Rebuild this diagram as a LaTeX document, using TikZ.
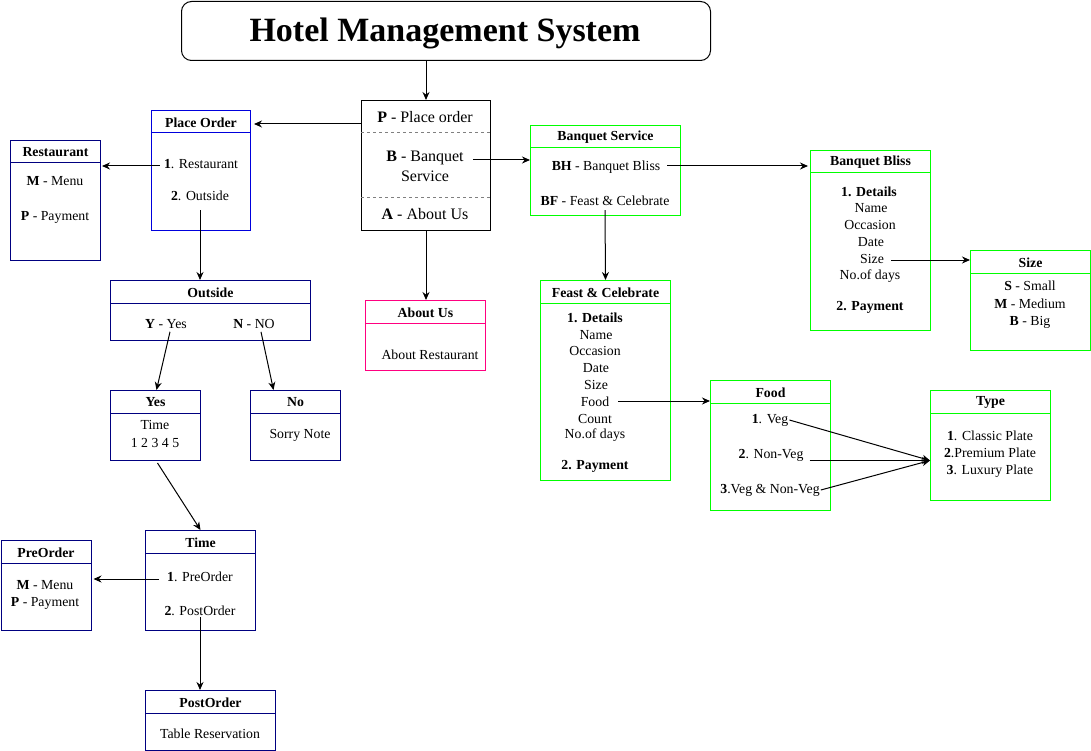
\documentclass[tikz,border=0pt]{standalone}
\usepackage{fontspec}
\setmainfont{Liberation Serif}
\usetikzlibrary{arrows.meta}
\definecolor{pblue}{HTML}{0000DD}
\definecolor{navy}{HTML}{000080}
\definecolor{lgreen}{HTML}{00FF00}
\definecolor{pink}{HTML}{FF0080}
\tikzset{
  txt/.style={font=\fontsize{13.8}{16}\selectfont, inner sep=1pt},
  big/.style={font=\fontsize{16}{20}\selectfont, inner sep=1pt, align=center},
  hdr/.style={font=\bfseries\fontsize{13.8}{16}\selectfont, inner sep=1pt},
  arr/.style={draw=black, line width=1pt, -{Stealth[length=8pt,width=7pt]}},
}
\newcommand{\mybox}[7]{%
  \node[draw=#6, line width=1pt, minimum width=#4pt, minimum height=#5pt, inner sep=0pt, anchor=north west] (#1) at (#2,#3) {};
  \draw[draw=#6, line width=1pt] ([yshift=-23pt]#1.north west) -- ([yshift=-23pt]#1.north east);
  \node[hdr] (#1-h) at ([yshift=-12.5pt]#1.north) {#7};
}
\begin{document}
\begin{tikzpicture}[x=1pt,y=-1pt]
\useasboundingbox (0,0) rectangle (1091,751);
% title
\node[draw, line width=1pt, rounded corners=10pt, minimum width=529pt, minimum height=59pt, anchor=north west, inner sep=0pt] (title) at (181,1) {};
\node[font=\bfseries\fontsize{34}{38}\selectfont] (title-t) at (445,33) {Hotel Management System};
% center box
\node[draw, line width=1pt, minimum width=129pt, minimum height=130pt, anchor=north west, inner sep=0pt] (ctr) at (361,100) {};
\draw[gray, line width=1pt, dash pattern=on 3pt off 3pt] (361,133) -- (490,133);
\draw[gray, line width=1pt, dash pattern=on 3pt off 3pt] (361,198) -- (490,198);
\node[big] (c1) at (425,117) {\textbf{P} - Place order};
\node[big] (c2) at (425,166) {\textbf{B} - Banquet\\Service};
\node[big] (c3) at (425,214) {\textbf{A} - About Us};
% place order
\mybox{po}{151}{110}{99}{120}{pblue}{Place Order}
\node[txt] (po1) at (201,164) {\textbf{1}. Restaurant};
\node[txt] (po2) at (200,196) {\textbf{2}. Outside};
% restaurant
\mybox{rs}{10}{140}{90}{120}{navy}{Restaurant}
\node[txt] (rs1) at (55,181) {\textbf{M} - Menu};
\node[txt] (rs2) at (55,217) {\textbf{P} - Payment};
% outside
\mybox{os}{110}{280}{200}{60}{navy}{Outside}
\node[txt] (os1) at (166,324) {\textbf{Y} - Yes};
\node[txt] (os2) at (254,324) {\textbf{N} - NO};
% yes / no
\mybox{yes}{110}{390}{90}{70}{navy}{Yes}
\node[txt] (y1) at (155,425) {Time};
\node[txt] (y2) at (155,443) {1 2 3 4 5};
\mybox{no}{250}{390}{90}{70}{navy}{No}
\node[txt] (n1) at (300,435) {Sorry Note};
% time
\mybox{tm}{145}{530}{110}{100}{navy}{Time}
\node[txt] (t1) at (200,577) {\textbf{1}. PreOrder};
\node[txt] (t2) at (200,611) {\textbf{2}. PostOrder};
% preorder
\mybox{pre}{0.5}{540}{90}{90}{navy}{PreOrder}
\node[txt] (pr1) at (45,585) {\textbf{M} - Menu};
\node[txt] (pr2) at (45,603) {\textbf{P} - Payment};
% postorder
\mybox{post}{145}{690}{130}{60}{navy}{PostOrder}
\node[txt] (pt1) at (210,734) {Table Reservation};
% about us
\mybox{ab}{365}{300}{120}{70}{pink}{About Us}
\node[txt] (ab1) at (430,355) {About Restaurant};
% banquet service
\mybox{bs}{530}{125}{150}{90}{lgreen}{Banquet Service}
\node[txt] (bs1) at (606,167) {\textbf{BH} - Banquet Bliss};
\node[txt] (bs2) at (605,201) {\textbf{BF} - Feast \& Celebrate};
% banquet bliss
\mybox{bb}{810}{150}{120}{180}{lgreen}{Banquet Bliss}
\node[hdr] (bb1) at (869,192) {1. Details};
\node[txt] (bb2) at (871,208) {Name};
\node[txt] (bb3) at (870,225) {Occasion};
\node[txt] (bb4) at (871,242) {Date};
\node[txt] (bb5) at (872,259) {Size};
\node[txt] (bb6) at (870,276) {No.of days};
\node[hdr] (bb7) at (870,307) {2. Payment};
% size
\mybox{sz}{970}{250}{120}{100}{lgreen}{Size}
\node[txt] (sz1) at (1030,286) {\textbf{S} - Small};
\node[txt] (sz2) at (1030,304) {\textbf{M} - Medium};
\node[txt] (sz3) at (1030,322) {\textbf{B} - Big};
% feast
\mybox{fc}{540}{280}{130}{200}{lgreen}{Feast \& Celebrate}
\node[hdr] (fc1) at (595,318) {1. Details};
\node[txt] (fc2) at (596,335) {Name};
\node[txt] (fc3) at (595,351) {Occasion};
\node[txt] (fc4) at (596,368) {Date};
\node[txt] (fc5) at (596,385) {Size};
\node[txt] (fc6) at (595,402) {Food};
\node[txt] (fc7) at (595,419) {Count};
\node[txt] (fc8) at (595,435) {No.of days};
\node[hdr] (fc9) at (595,466) {2. Payment};
% food
\mybox{fd}{710}{380}{120}{130}{lgreen}{Food}
\node[txt] (f1) at (770,420) {\textbf{1}. Veg};
\node[txt] (f2) at (771,455) {\textbf{2}. Non-Veg};
\node[txt] (f3) at (770,490) {\textbf{3}.Veg \& Non-Veg};
% type
\mybox{ty}{930}{390}{120}{110}{lgreen}{Type}
\node[txt] (ty1) at (990,436) {\textbf{1}. Classic Plate};
\node[txt] (ty2) at (990,453) {\textbf{2}.Premium Plate};
\node[txt] (ty3) at (990,471) {\textbf{3}. Luxury Plate};
% connector helper coordinates
\coordinate (tyin) at ([yshift=-15pt]ty.west);
\coordinate (bsin) at ([yshift=-35pt]bs.north west);
\coordinate (c2out) at ([xshift=8pt]c2.east |- bsin);
\coordinate (rsin) at ([xshift=1pt,yshift=-26pt]rs.north east);
\coordinate (po1out) at ([xshift=-3pt]po1.west |- rsin);
\coordinate (poin) at ([xshift=3pt,yshift=-14pt]po.north east);
\coordinate (ctrout) at (ctr.west |- poin);
\coordinate (prein) at ([xshift=2pt,yshift=-39pt]pre.north east);
\coordinate (t1out) at ([xshift=-7pt]t1.west |- prein);
\coordinate (po2out) at ([yshift=-8pt]po2.south);
\coordinate (osin) at (po2out |- os.north);
\coordinate (t2out) at (t2.south);
\coordinate (postin) at (t2out |- post.north);
\coordinate (f2out) at ([xshift=5pt]f2.east |- tyin);
\coordinate (abin) at (ctr.south |- ab.north);
\coordinate (bbin) at ([xshift=-2pt,yshift=-16pt]bb.north west);
\coordinate (bs1out) at ([xshift=6pt]bs1.east |- bbin);
\coordinate (szin) at ([yshift=-10pt]sz.north west);
\coordinate (bb5out) at ([xshift=6pt]bb5.east |- szin);
\coordinate (fdin) at ([yshift=-21pt]fd.north west);
\coordinate (fc6out) at ([xshift=8pt]fc6.east |- fdin);
% connectors
\draw[arr] (title.south -| ctr.north) -- (ctr.north);
\draw[arr] (ctrout) -- (poin);
\draw[arr] (ctr.south) -- (abin);
\draw[arr] (po1out) -- (rsin);
\draw[arr] (po2out) -- (osin);
\draw[arr] ([xshift=4pt,yshift=-2pt]os1.south) -- ([xshift=1pt]yes.north);
\draw[arr] ([xshift=7pt,yshift=-2pt]os2.south) -- ([xshift=-22pt]no.north);
\draw[arr] ([xshift=2pt,yshift=-2pt]yes.south) -- (tm.north);
\draw[arr] (t1out) -- (prein);
\draw[arr] (t2out) -- (postin);
\draw[arr] (c2out) -- (bsin);
\draw[arr] (bs1out) -- (bbin);
\draw[arr] ([yshift=-3pt]bs2.south) -- (fc.north);
\draw[arr] (bb5out) -- (szin);
\draw[arr] (fc6out) -- (fdin);
\draw[arr] (f1.east) -- (tyin);
\draw[arr] (f2out) -- (tyin);
\draw[arr] (f3.east) -- (tyin);
\end{tikzpicture}
\end{document}
